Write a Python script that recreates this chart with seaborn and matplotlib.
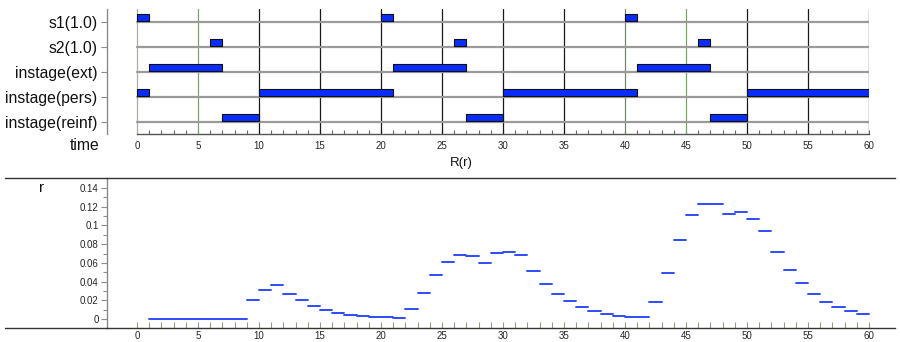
import numpy as np
import pandas as pd
import matplotlib
matplotlib.use('Agg')
import matplotlib.pyplot as plt
from matplotlib.lines import Line2D
from matplotlib.ticker import FixedLocator
import seaborn as sns

sns.set_theme(style='white')
plt.rcParams['font.family'] = ['Liberation Sans', 'DejaVu Sans']

# 상단: 상태 타임라인 (행 이름, 구간 시작/끝)
rows = ['s1(1.0)', 's2(1.0)', 'instage(ext)', 'instage(pers)', 'instage(reinf)']
s1_on = [(0, 1), (20, 21), (40, 41)]
s2_on = [(6, 7), (26, 27), (46, 47)]
ext_on = [(1, 7), (21, 27), (41, 47)]
pers_on = [(0, 1), (10, 21), (30, 41), (50, 60)]
reinf_on = [(7, 10), (27, 30), (47, 50)]
intervals = [s1_on, s2_on, ext_on, pers_on, reinf_on]

# 하단: R(r) 계단값, 구간 [t, t+1]
r_start = list(range(1, 60))
r_vals = [0, 0, 0, 0, 0, 0, 0, 0,
          0.020, 0.031, 0.036, 0.027, 0.020, 0.014, 0.0093, 0.0068, 0.0046, 0.0029,
          0.0018, 0.0018, 0.0007, 0.0103, 0.028, 0.047, 0.061, 0.068, 0.067, 0.060,
          0.071, 0.072, 0.068, 0.051, 0.037, 0.027, 0.019, 0.0125, 0.0085, 0.0057,
          0.0035, 0.0025, 0.0018, 0.018, 0.0495, 0.084, 0.111, 0.123, 0.1225, 0.112,
          0.114, 0.107, 0.0944, 0.072, 0.0527, 0.0385, 0.027, 0.018, 0.0125, 0.0085,
          0.0057]

W, H = 900, 342
fig = plt.figure(figsize=(9, 3.42), dpi=100)

def fx(px):
    return px / W

def fy(py):
    return 1 - py / H

# ---- top panel ----
ax1 = fig.add_axes([fx(107), fy(134), fx(869) - fx(107), fy(9) - fy(134)])
ax1.set_xlim(-30 / 12.2, 60)
ax1.set_ylim(-0.48, 4.52)
ypos = [4, 3, 2, 1, 0]

for x in range(0, 65, 5):
    if x in (0, 5, 40, 45):
        col = {0: '#a7b59e', 5: '#7fa472', 40: '#74896b', 45: '#74a865'}[x]
    else:
        col = '#1a1a1a'
    ax1.plot([x, x], [-0.48, 4.52], color=col, lw=0.9, zorder=1)

for y, ivs in zip(ypos, intervals):
    ax1.plot([0, 60], [y, y], color='#9a9a9a', lw=1.6, zorder=2)
    ax1.broken_barh([(a, b - a) for a, b in ivs], (y + 0.03, 0.3),
                    facecolor='#0a2dff', edgecolor='#101010', lw=0.8, zorder=3)

for s in ['top', 'right']:
    ax1.spines[s].set_visible(False)
ax1.spines['left'].set_color('#8a8a8a')
ax1.spines['bottom'].set_color('#555555')
ax1.spines['bottom'].set_bounds(0, 60)
ax1.spines['left'].set_linewidth(1.0)
ax1.spines['bottom'].set_linewidth(1.0)
ax1.set_yticks(ypos)
ax1.set_yticklabels(rows, fontsize=11.3, color='#111111')
ax1.tick_params(axis='y', direction='out', length=4, width=0.8, color='#8a8a8a', pad=3, left=True)
ax1.set_xticks(range(0, 61, 5))
ax1.set_xticklabels([str(v) for v in range(0, 61, 5)], fontsize=7)
ax1.xaxis.set_minor_locator(FixedLocator(range(0, 61)))
ax1.tick_params(axis='x', which='both', direction='in', length=3, width=0.8,
                color='#666666', pad=5, bottom=True)
ax1.grid(False)
fig.text(fx(99), fy(145), 'time', ha='right', va='center', fontsize=11.3, color='#111111')

# ---- bottom panel ----
ax2 = fig.add_axes([fx(107), fy(328), fx(895) - fx(107), fy(178) - fy(328)])
seg = pd.DataFrame({
    't': [t for t in r_start for _ in (0, 1)],
    'r': [v for v in r_vals for _ in (0, 1)],
    'seg': [i for i in range(len(r_start)) for _ in (0, 1)],
})
seg['t'] = seg['t'] + np.tile([0, 1], len(r_start))
sns.lineplot(data=seg, x='t', y='r', units='seg', estimator=None,
             color='#2d4cff', lw=1.4, ax=ax2, legend=False)
ax2.set_xlim(-30 / 12.2, (895 - 137) / 12.2)
ax2.set_ylim(-9 / 935.7, 141 / 935.7)
ax2.set_xlabel('')
ax2.set_ylabel('')
ax2.spines['right'].set_visible(False)
ax2.spines['top'].set_color('#333333')
ax2.spines['bottom'].set_color('#333333')
ax2.spines['left'].set_color('#8a8a8a')
for s in ['top', 'bottom', 'left']:
    ax2.spines[s].set_linewidth(1.0)
yt = [0, 0.02, 0.04, 0.06, 0.08, 0.1, 0.12, 0.14]
ax2.set_yticks(yt)
ax2.set_yticklabels(['0', '0.02', '0.04', '0.06', '0.08', '0.1', '0.12', '0.14'], fontsize=7)
ax2.yaxis.set_minor_locator(FixedLocator([0.01, 0.03, 0.05, 0.07, 0.09, 0.11, 0.13]))
ax2.tick_params(axis='y', which='major', direction='out', length=4, width=0.8,
                color='#8a8a8a', pad=2, left=True)
ax2.tick_params(axis='y', which='minor', direction='out', length=3, width=0.8,
                color='#8a8a8a', left=True)
ax2.set_xticks(range(0, 61, 5))
ax2.set_xticklabels([str(v) for v in range(0, 61, 5)], fontsize=7)
ax2.xaxis.set_minor_locator(FixedLocator(range(0, 61)))
ax2.tick_params(axis='x', which='both', direction='in', length=4, width=0.8,
                color='#9a9a80', pad=2, bottom=True)
ax2.grid(False)

for py in (178, 328):
    fig.add_artist(Line2D([fx(5), fx(107)], [fy(py), fy(py)], color='#333333', lw=1.0,
                          transform=fig.transFigure))
fig.text(fx(461), fy(163), 'R(r)', ha='center', va='center', fontsize=9.5, color='#111111')
fig.text(fx(42), fy(188), 'r', ha='center', va='center', fontsize=11, color='#111111')

fig.savefig('out.png', dpi=100)
